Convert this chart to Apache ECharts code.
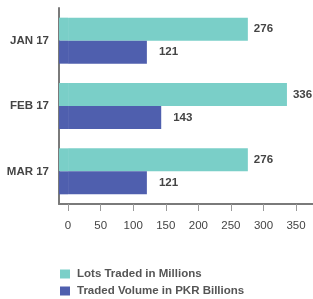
<!DOCTYPE html>
<html>
<head>
<meta charset="utf-8">
<script src="https://cdn.jsdelivr.net/npm/echarts@6/dist/echarts.min.js"></script>
<style>
  html, body { margin: 0; padding: 0; background: #fff; }
  #chart { width: 313px; height: 299px; }
</style>
</head>
<body>
<div id="chart"></div>
<script>
// data
const months = ['JAN 17', 'FEB 17', 'MAR 17'];
const lotsTraded = [276, 336, 276];
const tradedVolume = [121, 143, 121];
const ticks = [0, 50, 100, 150, 200, 250, 300, 350];
const seriesNames = ['Lots Traded in Millions', 'Traded Volume in PKR Billions'];

const TEAL = '#7acfc8';
const PURPLE = '#4f5fae';
const TEXT = '#444';
const AXIS = '#7a7a7a';
const FONT = '"Liberation Sans", Arial, sans-serif';

// the bars start at the axis line, a little left of zero
const lead = 13.9;
const axisMin = -lead;
const axisMax = 376;

const chart = echarts.init(document.getElementById('chart'), null, { renderer: 'canvas' });

// lead part of each bar (from the axis line to zero), same colour as the bar
function leadSeries(stack, color) {
    return {
        type: 'bar',
        xAxisIndex: 1,
        stack: stack,
        barWidth: 23,
        barGap: '0%',
        silent: true,
        itemStyle: { color: color },
        data: months.map(() => lead)
    };
}

function valueSeries(name, stack, color, values, dist) {
    return {
        name: name,
        type: 'bar',
        xAxisIndex: 1,
        stack: stack,
        barWidth: 23,
        barGap: '0%',
        itemStyle: { color: color },
        label: {
            show: true,
            position: 'right',
            distance: dist,
            color: TEXT,
            fontFamily: FONT,
            fontWeight: 'bold',
            fontSize: 11.5
        },
        data: values
    };
}

// one legend per entry so they stack vertically
function legendAt(name, top) {
    return {
        left: 55,
        top: top,
        itemWidth: 10,
        itemHeight: 9,
        icon: 'rect',
        data: [name],
        textStyle: {
            color: '#555',
            fontFamily: FONT,
            fontWeight: 'bold',
            fontSize: 11.5,
            padding: [0, 0, 0, 2]
        }
    };
}

chart.setOption({
    animation: false,
    grid: { left: 59, right: 0, top: 8, bottom: 95 },
    legend: [
        legendAt(seriesNames[0], 263),
        legendAt(seriesNames[1], 280)
    ],
    yAxis: {
        type: 'category',
        inverse: true,
        data: months,
        axisLine: { onZero: false, lineStyle: { color: AXIS, width: 2 } },
        axisTick: { show: false },
        axisLabel: {
            margin: 10,
            color: TEXT,
            fontFamily: FONT,
            fontWeight: 'bold',
            fontSize: 11.5
        }
    },
    xAxis: [{
        type: 'value',
        min: axisMin,
        max: axisMax,
        splitLine: { show: false },
        axisLine: { show: true, onZero: false, lineStyle: { color: AXIS, width: 2 } },
        axisTick: { show: true, length: 7, customValues: ticks, lineStyle: { color: '#999' } },
        axisLabel: {
            customValues: ticks,
            margin: 16,
            color: TEXT,
            fontFamily: FONT,
            fontSize: 11.5
        }
    }, {
        type: 'value',
        min: 0,
        max: axisMax - axisMin,
        show: false
    }],
    series: [
        leadSeries('lots', TEAL),
        valueSeries(seriesNames[0], 'lots', TEAL, lotsTraded, 6),
        leadSeries('vol', PURPLE),
        valueSeries(seriesNames[1], 'vol', PURPLE, tradedVolume, 12)
    ]
});
</script>
</body>
</html>
